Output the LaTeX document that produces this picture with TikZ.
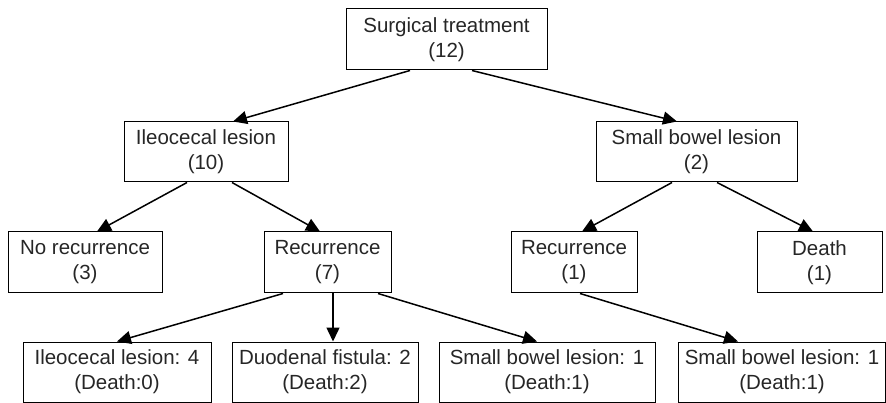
\documentclass[tikz,border=0pt]{standalone}
\usepackage{fontspec}
\setmainfont{Liberation Sans}
\usetikzlibrary{arrows.meta}
\begin{document}
\begin{tikzpicture}[x=1pt,y=-1pt,
  box/.style={draw=black,line width=1pt,rectangle,align=center,inner sep=0pt,
    font=\fontsize{20.5}{25}\selectfont,text=black!85},
  arr/.style={line width=1.5pt,arrows={-Triangle[length=14pt,width=13pt]}}]
\useasboundingbox (0,0) rectangle (886,403);
\node[box,minimum width=201pt,minimum height=61pt] (top) at (446.5,39.5) {Surgical treatment\\(12)};
\node[box,minimum width=164pt,minimum height=60pt] (ileo) at (206,152) {Ileocecal lesion\\(10)};
\node[box,minimum width=201pt,minimum height=60pt] (sbl) at (696.5,152) {Small bowel lesion\\(2)};
\node[box,minimum width=154pt,minimum height=61pt] (norec) at (85,262.5) {No recurrence\\(3)};
\node[box,minimum width=127pt,minimum height=61pt] (rec7) at (327.5,262.5) {Recurrence\\(7)};
\node[box,minimum width=126pt,minimum height=61pt] (rec1) at (574,262.5) {Recurrence\\(1)};
\node[box,minimum width=125pt,minimum height=61pt] (death) at (819.5,262.5) {Death\\(1)};
\node[box,minimum width=188pt,minimum height=60pt] (b1) at (117,372) {Ileocecal lesion: 4\\(Death:0)};
\node[box,minimum width=186pt,minimum height=60pt] (b2) at (325,372) {Duodenal fistula: 2\\(Death:2)};
\node[box,minimum width=216pt,minimum height=60pt] (b3) at (547,372) {Small bowel lesion: 1\\(Death:1)};
\node[box,minimum width=207pt,minimum height=60pt] (b4) at (782,372) {Small bowel lesion: 1\\(Death:1)};
\draw[arr] ([xshift=-36.5pt]top.south) -- ([xshift=27pt]ileo.north);
\draw[arr] ([xshift=25.5pt]top.south) -- ([xshift=-19.5pt]sbl.north);
\draw[arr] ([xshift=-19pt]ileo.south) -- ([xshift=12pt]norec.north);
\draw[arr] ([xshift=26pt]ileo.south) -- ([xshift=-7.5pt]rec7.north);
\draw[arr] ([xshift=-24.5pt]sbl.south) -- ([xshift=8pt]rec1.north);
\draw[arr] ([xshift=20.5pt]sbl.south) -- ([xshift=-6.5pt]death.north);
\draw[arr] ([xshift=-44.5pt]rec7.south) -- (b1.north);
\draw[arr] ([xshift=5.5pt]rec7.south) -- ([xshift=8pt]b2.north);
\draw[arr] ([xshift=50.5pt]rec7.south) -- ([xshift=-10pt]b3.north);
\draw[arr] ([xshift=6pt]rec1.south) -- ([xshift=-44pt]b4.north);
\end{tikzpicture}
\end{document}
